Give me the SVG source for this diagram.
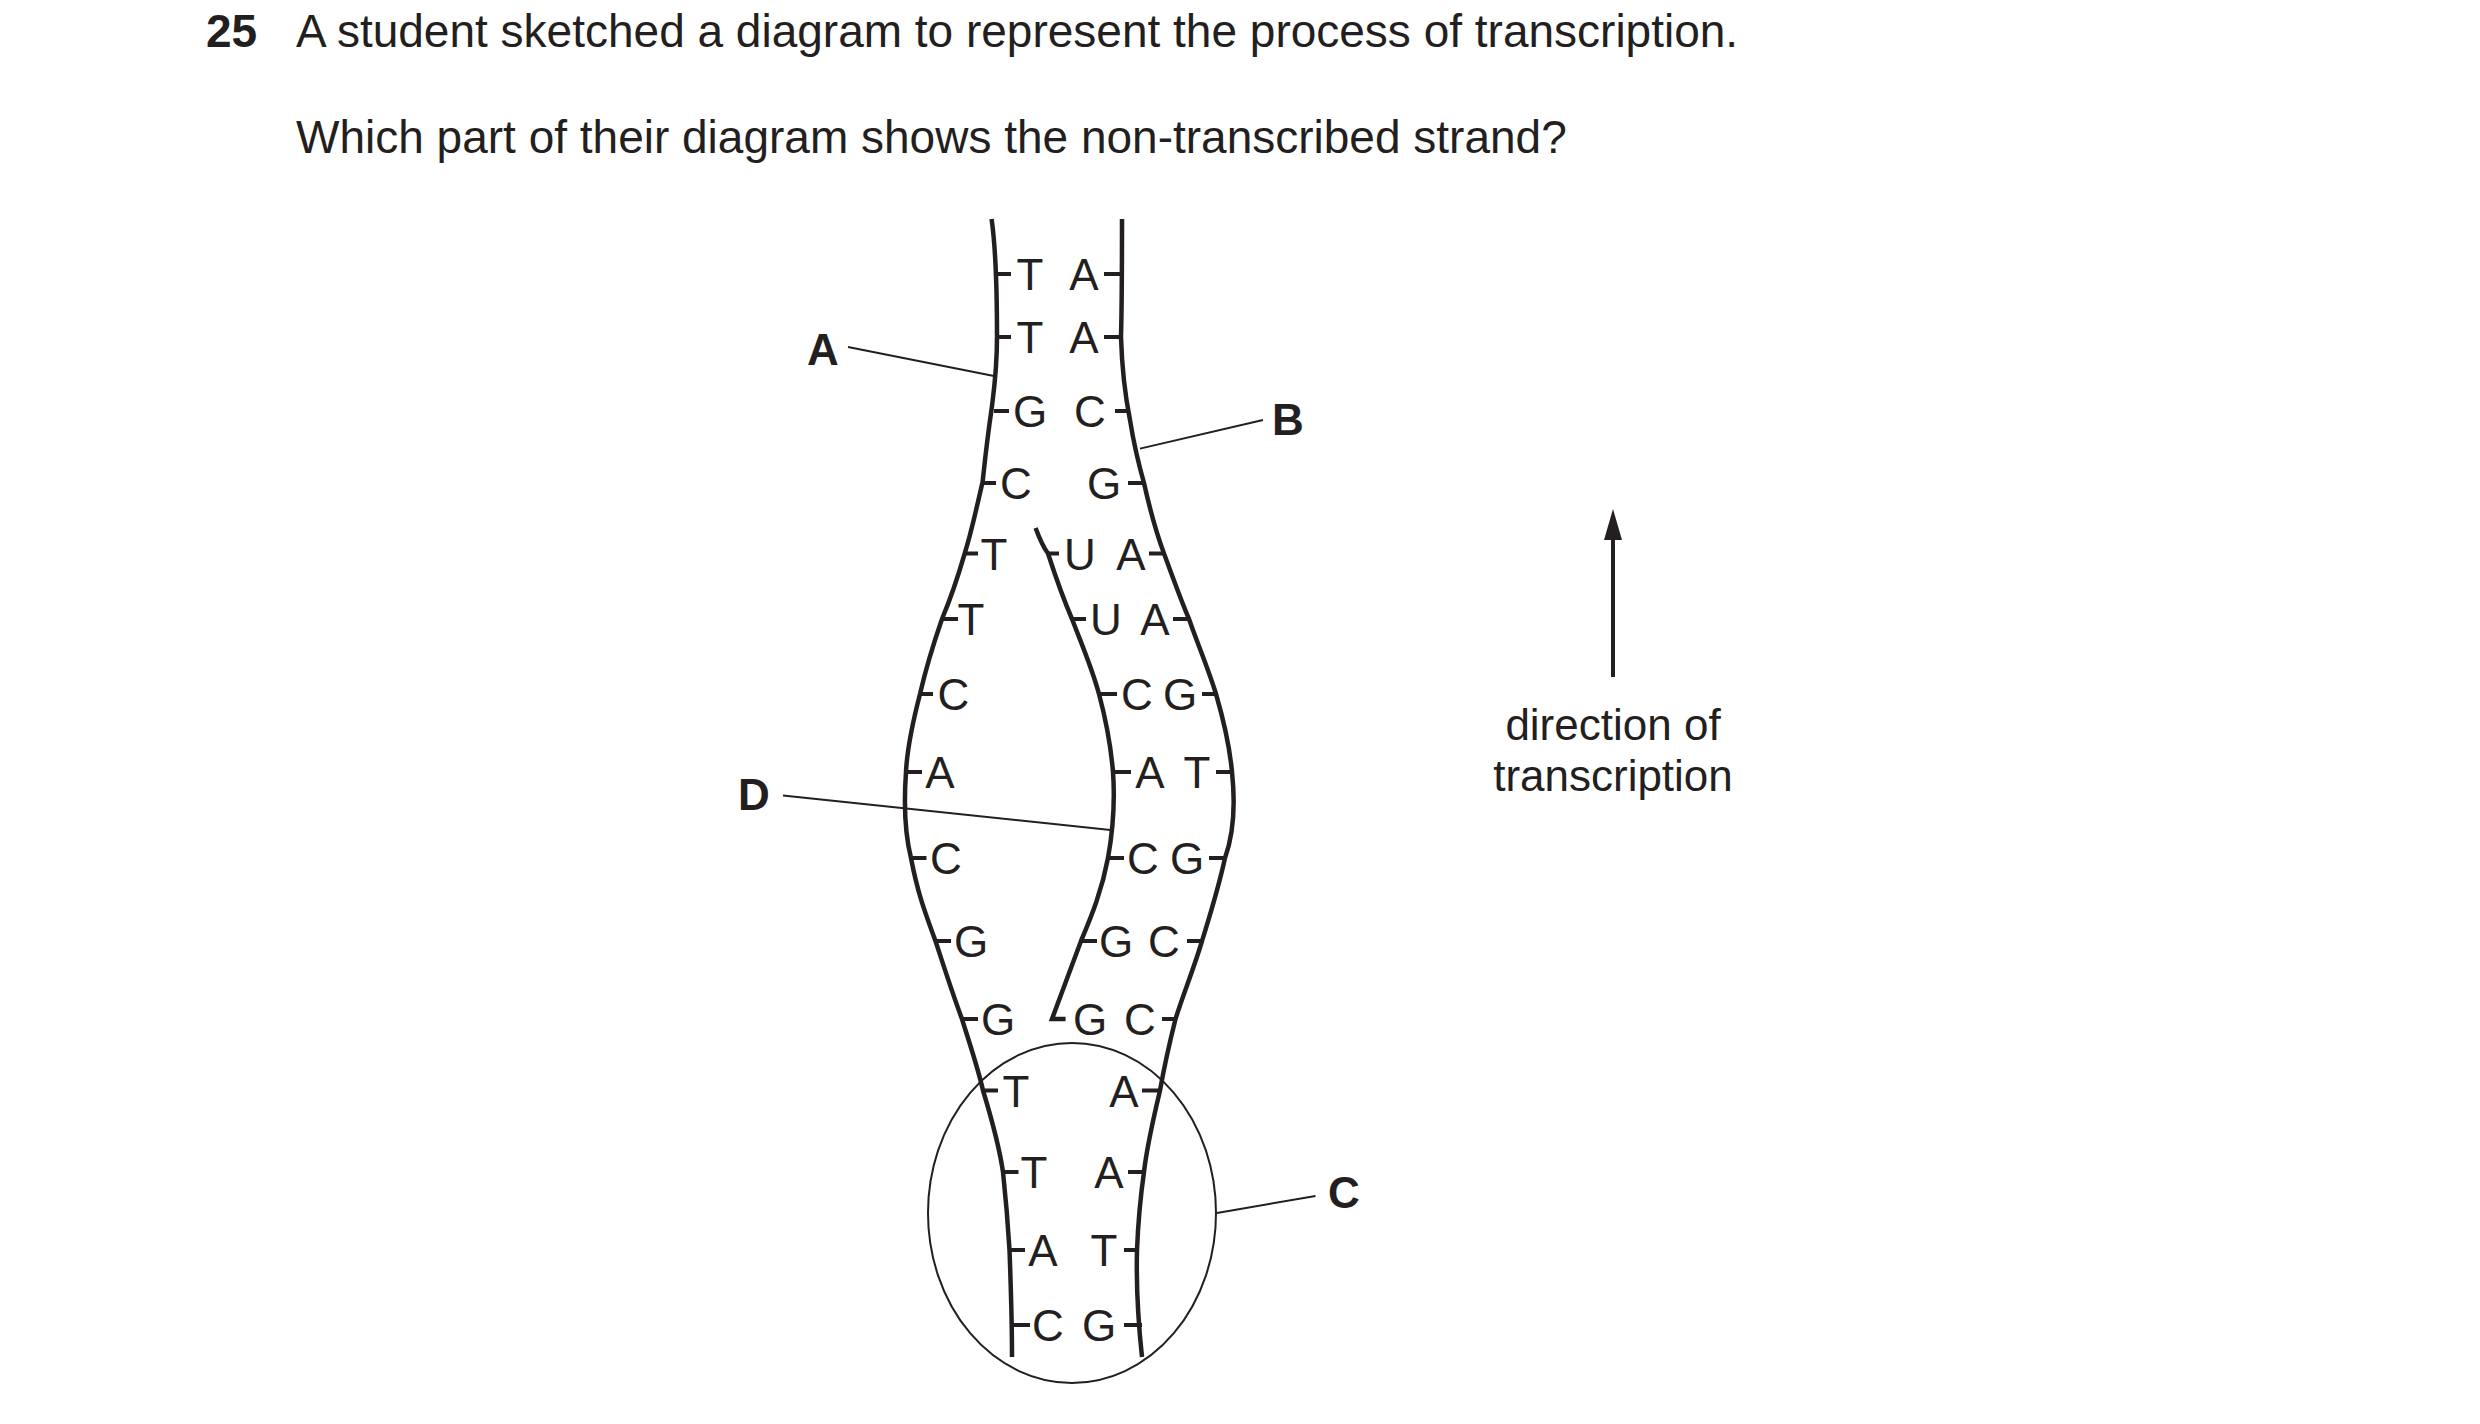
<svg xmlns="http://www.w3.org/2000/svg" width="2480" height="1424" viewBox="0 0 2480 1424">
<style>
text{font-family:"Liberation Sans",Arial,sans-serif;fill:#231f20}
.q{font-size:46px}
.b{font-size:44px;font-weight:bold}
.l{font-size:44px;text-anchor:middle}
.s{fill:none;stroke:#231f20;stroke-width:4.5}
.t{stroke:#231f20;stroke-width:4}
.p{fill:none;stroke:#231f20;stroke-width:2}
</style>
<g id="question">
<text class="b" x="206" y="47" style="font-size:46px">25</text>
<text class="q" x="296" y="47">A student sketched a diagram to represent the process of transcription.</text>
<text class="q" x="296" y="153">Which part of their diagram shows the non-transcribed strand?</text>
</g>
<g id="strands">
<path class="s" d="M991.6,219 C996,250 997,290 997,337 C997,370 994,390 991.6,409 C987,440 985,460 982.6,482 C976,510 972,530 964.7,553.5 C957,580 950,600 942,619 C933,645 926,668 920,694 C912,725 907,750 906,772 C904,800 904,830 911,858 C918,895 926,915 935.5,941 C945,970 953,995 962,1019 C970,1045 978,1068 983,1090.5 C992,1120 999,1145 1003,1172 C1006,1200 1008,1225 1009.5,1250 C1011,1290 1012,1320 1012,1357"/>
<path class="s" d="M1122,219 C1122,250 1122,300 1121,337 C1122,370 1125,395 1130,420 C1134,445 1138,462 1144,483 C1150,510 1156,532 1164,553.5 C1172,575 1180,598 1189,619 C1198,645 1208,668 1216,694 C1225,725 1230,750 1232,772 C1235,800 1235,830 1225,858 C1218,890 1210,915 1202,941 C1194,968 1183,995 1175.5,1019 C1169,1045 1164,1068 1160,1090.5 C1153,1120 1147,1145 1144,1172 C1140,1200 1138,1225 1137,1250 C1136,1290 1138,1320 1142,1357"/>
<path class="s" d="M1035.6,528 C1040,540 1044,548 1048,553.5 C1055,575 1063,598 1072,619 C1082,645 1092,668 1099,694 C1106,720 1111,748 1113,772 C1115,800 1113,830 1108,858 C1102,890 1092,915 1081,941 C1072,965 1062,992 1052,1019 L1065.6,1019"/>
<g id="ticks">
<path class="t" d="M997,274h14 M1104,274h18 M997,337h14 M1104,337h17 M994,411h15 M1115,411h13 M983,483h13 M1128,483h16 M965,553.5h13 M1048,553.5h11 M1149,553.5h15 M942,619h16 M1072,619h14 M1173,619h16 M920,694h13 M1099,694h18 M1202,694h14 M906,772h16 M1115,772h16 M1216,772h16 M911,858h15.5 M1108,858h16 M1209,858h16 M935.5,941h15.5 M1081,941h16 M1187,941h15 M962,1019h16 M1162,1019h13.5 M983,1090.5h15 M1142,1090.5h18 M1003,1172h15.5 M1128,1172h16 M1009.5,1250h15.5 M1124,1250h13 M1012,1325h18 M1124,1325h18"/>
</g>
</g>
<g id="bases">
<text class="l" x="1030" y="290">T</text><text class="l" x="1084" y="290">A</text>
<text class="l" x="1030" y="353">T</text><text class="l" x="1084" y="353">A</text>
<text class="l" x="1030" y="427">G</text><text class="l" x="1090" y="427">C</text>
<text class="l" x="1016" y="499">C</text><text class="l" x="1104" y="499">G</text>
<text class="l" x="994" y="569.5">T</text><text class="l" x="1080" y="569.5">U</text><text class="l" x="1131" y="569.5">A</text>
<text class="l" x="971" y="635">T</text><text class="l" x="1106" y="635">U</text><text class="l" x="1155" y="635">A</text>
<text class="l" x="953.5" y="710">C</text><text class="l" x="1137" y="710">C</text><text class="l" x="1180" y="710">G</text>
<text class="l" x="940" y="788">A</text><text class="l" x="1150" y="788">A</text><text class="l" x="1197" y="788">T</text>
<text class="l" x="946" y="874">C</text><text class="l" x="1143" y="874">C</text><text class="l" x="1187" y="874">G</text>
<text class="l" x="971" y="957">G</text><text class="l" x="1116" y="957">G</text><text class="l" x="1164" y="957">C</text>
<text class="l" x="998" y="1035">G</text><text class="l" x="1090" y="1035">G</text><text class="l" x="1140" y="1035">C</text>
<text class="l" x="1016" y="1106.5">T</text><text class="l" x="1124" y="1106.5">A</text>
<text class="l" x="1034" y="1188">T</text><text class="l" x="1109" y="1188">A</text>
<text class="l" x="1043" y="1266">A</text><text class="l" x="1104" y="1266">T</text>
<text class="l" x="1048" y="1341">C</text><text class="l" x="1099" y="1341">G</text>
</g>
<g id="region-C"><ellipse class="p" cx="1072" cy="1213" rx="144" ry="170"/></g>
<g id="label-lines">
<path class="p" d="M848,347 L994,376 M1140,448.6 L1263,420 M783,795.5 L1110.5,830 M1217,1213 L1315.5,1196"/>
</g>
<g id="labels">
<text class="b" x="823" y="365" text-anchor="middle">A</text>
<text class="b" x="1288" y="435" text-anchor="middle">B</text>
<text class="b" x="754" y="810" text-anchor="middle">D</text>
<text class="b" x="1344" y="1208" text-anchor="middle">C</text>
</g>
<g id="direction">
<line x1="1613" y1="677" x2="1613" y2="535" stroke="#231f20" stroke-width="4"/>
<polygon points="1613,509 1604,540 1622,540" fill="#231f20"/>
<text class="l" x="1613" y="740">direction of</text>
<text class="l" x="1613" y="791">transcription</text>
</g>
</svg>
